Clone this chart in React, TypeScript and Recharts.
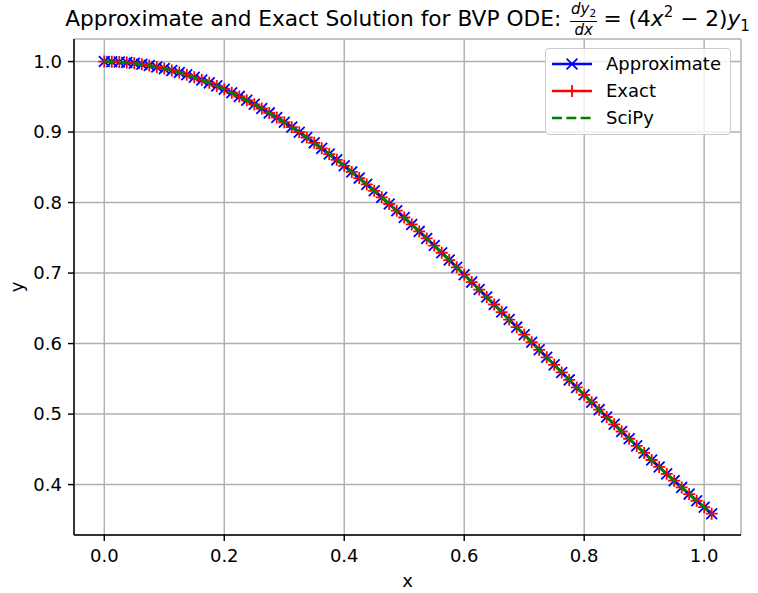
import { LineChart, Line, XAxis, YAxis, CartesianGrid, Label } from "recharts"

// x grid of the solution (last point just past 1.0)
const xValues = [
  0, 0.0125, 0.025, 0.0375, 0.05, 0.0625, 0.075, 0.0875, 0.1, 0.1125,
  0.125, 0.1375, 0.15, 0.1625, 0.175, 0.1875, 0.2, 0.2125, 0.225, 0.2375,
  0.25, 0.2625, 0.275, 0.2875, 0.3, 0.3125, 0.325, 0.3375, 0.35, 0.3625,
  0.375, 0.3875, 0.4, 0.4125, 0.425, 0.4375, 0.45, 0.4625, 0.475, 0.4875,
  0.5, 0.5125, 0.525, 0.5375, 0.55, 0.5625, 0.575, 0.5875, 0.6, 0.6125,
  0.625, 0.6375, 0.65, 0.6625, 0.675, 0.6875, 0.7, 0.7125, 0.725, 0.7375,
  0.75, 0.7625, 0.775, 0.7875, 0.8, 0.8125, 0.825, 0.8375, 0.85, 0.8625,
  0.875, 0.8875, 0.9, 0.9125, 0.925, 0.9375, 0.95, 0.9625, 0.975, 0.9875,
  1.0, 1.0125,
]

// y; the three solutions overlap at this scale
const solutionY = [
  1.0, 0.9998, 0.9994, 0.9986, 0.9975, 0.9961, 0.9944, 0.9924, 0.9900, 0.9874,
  0.9845, 0.9813, 0.9777, 0.9739, 0.9698, 0.9655, 0.9608, 0.9558, 0.9506, 0.9451,
  0.9394, 0.9334, 0.9272, 0.9207, 0.9139, 0.9070, 0.8998, 0.8923, 0.8847, 0.8769,
  0.8688, 0.8606, 0.8521, 0.8435, 0.8347, 0.8258, 0.8167, 0.8074, 0.7980, 0.7885,
  0.7788, 0.7690, 0.7591, 0.7491, 0.7390, 0.7288, 0.7185, 0.7081, 0.6977, 0.6872,
  0.6766, 0.6660, 0.6554, 0.6447, 0.6341, 0.6233, 0.6126, 0.6019, 0.5912, 0.5805,
  0.5698, 0.5591, 0.5485, 0.5378, 0.5273, 0.5168, 0.5063, 0.4959, 0.4855, 0.4753,
  0.4650, 0.4549, 0.4449, 0.4349, 0.4250, 0.4152, 0.4056, 0.3960, 0.3865, 0.3771,
  0.3679, 0.3587,
]

const xTicks = [0, 0.2, 0.4, 0.6, 0.8, 1.0]
const yTicks = [0.4, 0.5, 0.6, 0.7, 0.8, 0.9, 1.0]

const data = xValues.map((x, i) => ({
  x,
  approximate: solutionY[i],
  exact: solutionY[i],
  scipy: solutionY[i],
}))

const FONT = "'DejaVu Sans', sans-serif"
const BLUE = "#0000ff"
const RED = "#ff0000"
const GREEN = "#008000"
const M = 5.4
const X_DOMAIN = [-0.0505, 1.0614]
const Y_DOMAIN = [0.3285, 1.032]
const MARGIN = { top: 39, right: 17, left: 14, bottom: 0 }

const XMark = (props: any) => {
  const { cx, cy, index } = props
  if (cx == null || cy == null) return <g key={index} />
  return (
    <path
      key={index}
      d={`M${cx - M},${cy - M}L${cx + M},${cy + M}M${cx - M},${cy + M}L${cx + M},${cy - M}`}
      stroke={BLUE}
      strokeWidth={1.8}
      fill="none"
    />
  )
}

const PlusMark = (props: any) => {
  const { cx, cy, index } = props
  if (cx == null || cy == null) return <g key={index} />
  const r = M + 0.6
  return (
    <path
      key={index}
      d={`M${cx - r},${cy}L${cx + r},${cy}M${cx},${cy - r}L${cx},${cy + r}`}
      stroke={RED}
      strokeWidth={1.8}
      fill="none"
    />
  )
}

function LegendRow({ top, color, kind, label }: { top: number; color: string; kind: string; label: string }) {
  return (
    <div style={{ position: "absolute", left: 0, top: top - 10, height: 20, width: 186 }}>
      <svg width={50} height={20} style={{ position: "absolute", left: 0, top: 0 }}>
        <line
          x1={6}
          x2={46}
          y1={10}
          y2={10}
          stroke={color}
          strokeWidth={2.7}
          strokeDasharray={kind === "dash" ? "10 4.3" : undefined}
        />
        {kind === "x" && <XMark cx={26} cy={10} index={0} />}
        {kind === "plus" && <PlusMark cx={26} cy={10} index={0} />}
      </svg>
      <span
        style={{
          position: "absolute",
          left: 60,
          top: 0,
          lineHeight: "20px",
          fontSize: 18,
          fontFamily: FONT,
          color: "#000",
        }}
      >
        {label}
      </span>
    </div>
  )
}

export default function App() {
  return (
    <div style={{ position: "absolute", left: 0, top: 0, width: 758, height: 593, background: "#fff" }}>
      <LineChart width={758} height={593} data={data} margin={MARGIN}>
        <CartesianGrid stroke="#b0b0b0" strokeWidth={1.45} />
        <XAxis
          dataKey="x"
          type="number"
          domain={X_DOMAIN}
          ticks={xTicks}
          tickFormatter={(v) => v.toFixed(1)}
          height={58}
          tickSize={6}
          tickMargin={8}
          axisLine={{ stroke: "#000", strokeWidth: 1.45 }}
          tickLine={{ stroke: "#000", strokeWidth: 1.45 }}
          tick={{ fill: "#000", fontSize: 18, fontFamily: FONT }}
          allowDataOverflow
        >
          <Label value="x" position="insideBottom" offset={6} style={{ fill: "#000", fontSize: 18, fontFamily: FONT }} />
        </XAxis>
        <XAxis
          xAxisId="top"
          orientation="top"
          type="number"
          domain={X_DOMAIN}
          height={0}
          tick={false}
          tickLine={false}
          axisLine={{ stroke: "#000", strokeWidth: 1.45 }}
          allowDataOverflow
        />
        <YAxis
          type="number"
          domain={Y_DOMAIN}
          ticks={yTicks}
          tickFormatter={(v) => v.toFixed(1)}
          width={60}
          tickSize={6}
          tickMargin={6}
          axisLine={{ stroke: "#000", strokeWidth: 1.45 }}
          tickLine={{ stroke: "#000", strokeWidth: 1.45 }}
          tick={{ fill: "#000", fontSize: 18, fontFamily: FONT }}
          allowDataOverflow
        >
          <Label
            value="y"
            angle={-90}
            position="insideLeft"
            offset={3}
            style={{ fill: "#000", fontSize: 18, fontFamily: FONT, textAnchor: "middle" }}
          />
        </YAxis>
        <YAxis
          yAxisId="right"
          orientation="right"
          type="number"
          domain={Y_DOMAIN}
          width={0}
          tick={false}
          tickLine={false}
          axisLine={{ stroke: "#000", strokeWidth: 1.45 }}
          allowDataOverflow
        />
        <Line
          dataKey="approximate"
          stroke={BLUE}
          strokeWidth={2.7}
          dot={XMark}
          activeDot={false}
          isAnimationActive={false}
        />
        <Line
          dataKey="exact"
          stroke={RED}
          strokeWidth={2.7}
          dot={PlusMark}
          activeDot={false}
          isAnimationActive={false}
        />
      </LineChart>

      {/* SciPy curve in a second, identical chart so that it sits above the markers */}
      <div style={{ position: "absolute", left: 0, top: 0, pointerEvents: "none" }}>
        <LineChart width={758} height={593} data={data} margin={MARGIN}>
          <XAxis
            dataKey="x"
            type="number"
            domain={X_DOMAIN}
            height={58}
            tick={false}
            tickLine={false}
            axisLine={false}
            allowDataOverflow
          />
          <YAxis
            type="number"
            domain={Y_DOMAIN}
            width={60}
            tick={false}
            tickLine={false}
            axisLine={false}
            allowDataOverflow
          />
          <Line
            dataKey="scipy"
            stroke={GREEN}
            strokeWidth={2.7}
            strokeDasharray="10 4.3"
            dot={false}
            activeDot={false}
            isAnimationActive={false}
          />
        </LineChart>
      </div>

      <div
        style={{
          position: "absolute",
          left: 74,
          width: 667,
          top: 2,
          height: 34,
          display: "flex",
          justifyContent: "center",
          alignItems: "center",
          fontFamily: FONT,
          fontSize: 21.7,
          whiteSpace: "nowrap",
          color: "#000",
          lineHeight: 1,
        }}
      >
        <span>Approximate and Exact Solution for BVP ODE:&nbsp;</span>
        <span
          style={{
            display: "inline-flex",
            flexDirection: "column",
            alignItems: "center",
            fontSize: 15,
            lineHeight: "14px",
            fontStyle: "italic",
            margin: "0 2px",
          }}
        >
          <span style={{ padding: "0 1px 1px" }}>
            dy<span style={{ fontSize: 10.5, fontStyle: "normal", verticalAlign: -3 }}>2</span>
          </span>
          <span style={{ borderTop: "1px solid #000", width: "100%", textAlign: "center", paddingTop: 1 }}>dx</span>
        </span>
        <span>
          {"\u2009= (4"}
          <i>x</i>
          <span style={{ fontSize: 15, verticalAlign: 9 }}>2</span>
          {" \u2212 2)"}
          <i>y</i>
          <span style={{ fontSize: 15, verticalAlign: -5 }}>1</span>
        </span>
      </div>

      <div
        style={{
          position: "absolute",
          left: 545,
          top: 48,
          width: 186,
          height: 87,
          boxSizing: "border-box",
          border: "1px solid #cccccc",
          borderRadius: 4,
          background: "rgba(255,255,255,0.8)",
        }}
      >
        <LegendRow top={15} color={BLUE} kind="x" label="Approximate" />
        <LegendRow top={42} color={RED} kind="plus" label="Exact" />
        <LegendRow top={69} color={GREEN} kind="dash" label="SciPy" />
      </div>
    </div>
  )
}
